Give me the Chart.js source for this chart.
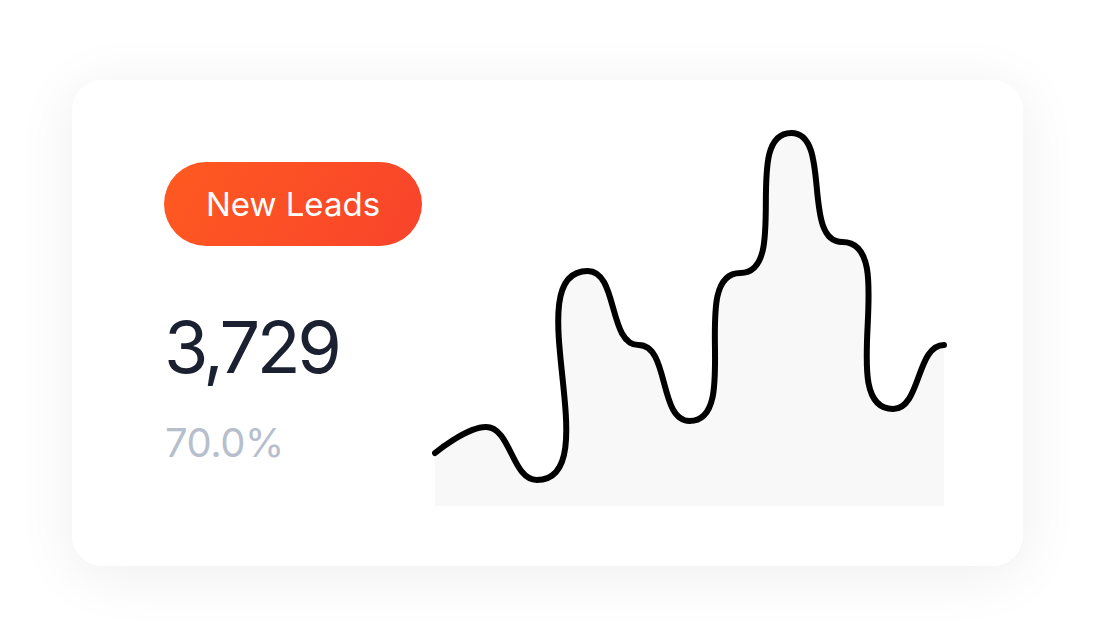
<!DOCTYPE html>
<html>
<head>
<meta charset="utf-8">
<script src="https://cdn.jsdelivr.net/npm/chart.js@4/dist/chart.umd.min.js"></script>
<style>
  html, body { margin: 0; padding: 0; background: #ffffff; }
  body { width: 1094px; height: 630px; position: relative; overflow: hidden; font-family: Inter, "Noto Sans", sans-serif; }
  .card { position: absolute; left: 72px; top: 80px; width: 951px; height: 486px; background: #ffffff; border-radius: 30px;
          box-shadow: 0 8px 60px rgba(0,0,0,0.07); }
  .pill { position: absolute; left: 164px; top: 162px; width: 258px; height: 84px; border-radius: 42px;
          background: linear-gradient(120deg, #ff5a20 0%, #f8432c 100%);
          display: flex; align-items: center; justify-content: center; color: #fff; font-size: 33px; line-height: 1; font-weight: 400; }
  .value { position: absolute; left: 164px; top: 311px; font-size: 72px; line-height: 1; color: #1b2130; font-weight: 400; letter-spacing: -3.5px; }
  .pct { position: absolute; left: 165px; top: 423px; font-size: 40px; line-height: 1; color: #b7bfcd; font-weight: 400; letter-spacing: -0.5px; }
  #chart { position: absolute; left: 415px; top: 100px; }
</style>
</head>
<body>
<div class="card"></div>
<div class="pill" id="title"></div>
<div class="value" id="value"></div>
<div class="pct" id="pct"></div>
<canvas id="chart" width="550" height="426"></canvas>
<script>
const titleText = "New Leads";
const valueText = "3,729";
const percentText = "70.0%";
const labels = ["Jan", "Feb", "Mar", "Apr", "May", "Jun", "Jul", "Aug", "Sep", "Oct", "Nov"];
const leads = [13.25, 19.75, 6.5, 58.75, 40.25, 21.25, 58.25, 93.25, 66, 24.25, 40.25];

document.getElementById('title').textContent = titleText;
document.getElementById('value').textContent = valueText;
document.getElementById('pct').textContent = percentText;

// Smooth curve: horizontal tangents at each point, handle length proportional to distance to neighbour
const HANDLE = 0.34;
const horizontalSmooth = {
  id: 'horizontalSmooth',
  afterDatasetsUpdate(chart) {
    chart.getSortedVisibleDatasetMetas().forEach(meta => {
      const line = meta.dataset;
      if (line && line.updateControlPoints) line.updateControlPoints(chart.chartArea, 'x');
      const pts = meta.data;
      for (let i = 0; i < pts.length; i++) {
        const p = pts[i], prev = pts[i - 1], next = pts[i + 1];
        if (prev) {
          const d = Math.hypot(p.x - prev.x, p.y - prev.y);
          p.cp1x = p.x - HANDLE * d; p.cp1y = p.y;
        } else { p.cp1x = p.x; p.cp1y = p.y; }
        if (next && prev) {
          const d = Math.hypot(next.x - p.x, next.y - p.y);
          p.cp2x = p.x + HANDLE * d; p.cp2y = p.y;
        } else { p.cp2x = p.x; p.cp2y = p.y; }
      }
    });
  }
};

new Chart(document.getElementById('chart'), {
  type: 'line',
  data: {
    labels: labels,
    datasets: [{
      data: leads,
      borderColor: '#000000',
      borderWidth: 6,
      borderCapStyle: 'round',
      borderJoinStyle: 'round',
      backgroundColor: '#f8f8f8',
      fill: 'origin',
      tension: 0.4,
      pointRadius: 0,
      pointHoverRadius: 0
    }]
  },
  plugins: [horizontalSmooth],
  options: {
    responsive: false,
    animation: false,
    events: [],
    layout: { padding: { left: 20, right: 21, top: 6, bottom: 20 } },
    plugins: { legend: { display: false }, tooltip: { enabled: false } },
    scales: {
      x: { display: false, offset: false },
      y: { display: false, min: 0, max: 100 }
    }
  }
});
</script>
</body>
</html>
